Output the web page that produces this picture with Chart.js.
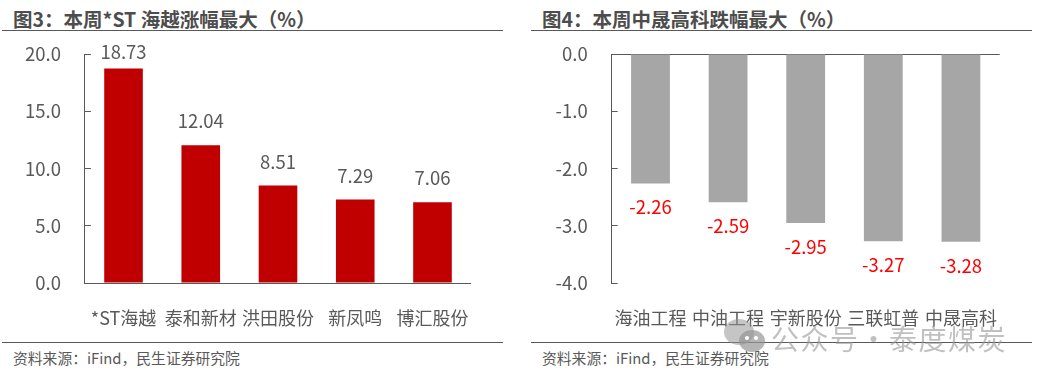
<!DOCTYPE html>
<html lang="zh">
<head>
<meta charset="utf-8">
<script src="https://cdn.jsdelivr.net/npm/chart.js@4"></script>
<style>
    html, body { margin: 0; padding: 0; background: #fff; }
    body { position: relative; width: 1037px; height: 377px; overflow: hidden; font-family: "Noto Sans CJK SC", sans-serif; }
    canvas { position: absolute; top: 0; }
    .title { position: absolute; top: 6px; font-size: 19.5px; line-height: 26px; font-weight: 700; color: #4d4d4d; white-space: nowrap; }
    .source { position: absolute; top: 347px; font-size: 14.8px; line-height: 22px; color: #595959; white-space: nowrap; }
    .rule { position: absolute; width: 501px; height: 1px; background: #595959; }
    .mark { position: absolute; left: 771px; top: 316px; font-size: 28px; line-height: 44px; letter-spacing: 1.5px; color: rgba(150,150,150,0.6); white-space: nowrap; }
    svg { position: absolute; left: 724px; top: 319px; }
</style>
</head>
<body>
<div class="title" style="left:13px">图3&#xFF1A;本周*ST 海越涨幅最大&#xFF08;%&#xFF09;</div>
<div class="title" style="left:542px">图4&#xFF1A;本周中晟高科跌幅最大&#xFF08;%&#xFF09;</div>
<div class="rule" style="left:2px;top:30px"></div>
<div class="rule" style="left:531px;top:30px"></div>
<div class="rule" style="left:2px;top:342px"></div>
<div class="rule" style="left:531px;top:342px"></div>
<div class="source" style="left:13px">资料来源&#xFF1A;iFind&#xFF0C;民生证券研究院</div>
<div class="source" style="left:542px">资料来源&#xFF1A;iFind&#xFF0C;民生证券研究院</div>

<canvas id="gainChart" width="518" height="377" style="left:0"></canvas>
<canvas id="lossChart" width="517" height="377" style="left:520px"></canvas>

<svg width="42" height="36" viewBox="0 0 42 36">
    <ellipse cx="15" cy="13" rx="15" ry="13" fill="rgba(150,150,150,0.55)"/>
    <ellipse cx="28" cy="22" rx="13" ry="11" fill="rgba(150,150,150,0.7)"/>
    <circle cx="23" cy="19" r="2" fill="#fff"/>
    <circle cx="32" cy="19" r="2" fill="#fff"/>
</svg>
<div class="mark">公众号·泰度煤炭</div>

<script>
const gainNames = ['*ST海越', '泰和新材', '洪田股份', '新凤鸣', '博汇股份'];
const gainValues = [18.73, 12.04, 8.51, 7.29, 7.06];
const lossNames = ['海油工程', '中油工程', '宇新股份', '三联虹普', '中晟高科'];
const lossValues = [-2.26, -2.59, -2.95, -3.27, -3.28];

const textColor = '#595959';
const lineColor = '#595959';
const fontFamily = '"Noto Sans CJK SC", sans-serif';

// value labels above/below the bars, kept inside the page top
const valueLabels = {
    id: 'valueLabels',
    afterDatasetsDraw(chart, args, opts) {
        const ctx = chart.ctx;
        const bars = chart.getDatasetMeta(0).data;
        ctx.save();
        ctx.font = '18.5px ' + fontFamily;
        ctx.fillStyle = opts.color;
        ctx.textAlign = 'center';
        ctx.textBaseline = 'middle';
        bars.forEach((bar, i) => {
            const v = chart.data.datasets[0].data[i];
            const y = v < 0 ? bar.y + 24 : Math.max(bar.y - 24, 52);
            ctx.fillText(v.toFixed(2), bar.x, y);
        });
        ctx.restore();
    }
};

function makeChart(id, names, values, barColor, labelColor, min, max, step, pad, axisWidth) {
    return new Chart(document.getElementById(id), {
        type: 'bar',
        data: {
            labels: names,
            datasets: [{
                data: values,
                backgroundColor: barColor,
                categoryPercentage: 1,
                barPercentage: 0.5
            }]
        },
        plugins: [valueLabels],
        options: {
            responsive: false,
            animation: false,
            layout: { padding: pad },
            plugins: {
                legend: { display: false },
                tooltip: { enabled: false },
                valueLabels: { color: labelColor }
            },
            scales: {
                x: {
                    position: 'bottom',
                    grid: { display: false },
                    border: { display: false },
                    ticks: {
                        color: textColor,
                        font: { size: 18, family: fontFamily },
                        autoSkip: false,
                        maxRotation: 0,
                        padding: 16
                    },
                    afterFit: scale => { scale.height = 94; }
                },
                y: {
                    min: min,
                    max: max,
                    grid: {
                        tickLength: -6,
                        lineWidth: 1,
                        color: c => c.tick.value === 0 ? lineColor : 'transparent',
                        tickColor: c => c.tick.value === 0 ? 'transparent' : lineColor
                    },
                    border: { color: lineColor, width: 1 },
                    ticks: {
                        stepSize: step,
                        color: textColor,
                        font: { size: 18.5, family: fontFamily },
                        padding: 30,
                        callback: v => v.toFixed(1)
                    },
                    afterFit: scale => { scale.width = axisWidth; }
                }
            }
        }
    });
}

makeChart('gainChart', gainNames, gainValues, '#c00000', textColor, 0, 20, 5,
    { top: 54, right: 46.9 }, 84.9);
makeChart('lossChart', lossNames, lossValues, '#a6a6a6', '#ff0000', -4, 0, 1,
    { top: 54, right: 37.3 }, 91.7);
</script>
</body>
</html>
